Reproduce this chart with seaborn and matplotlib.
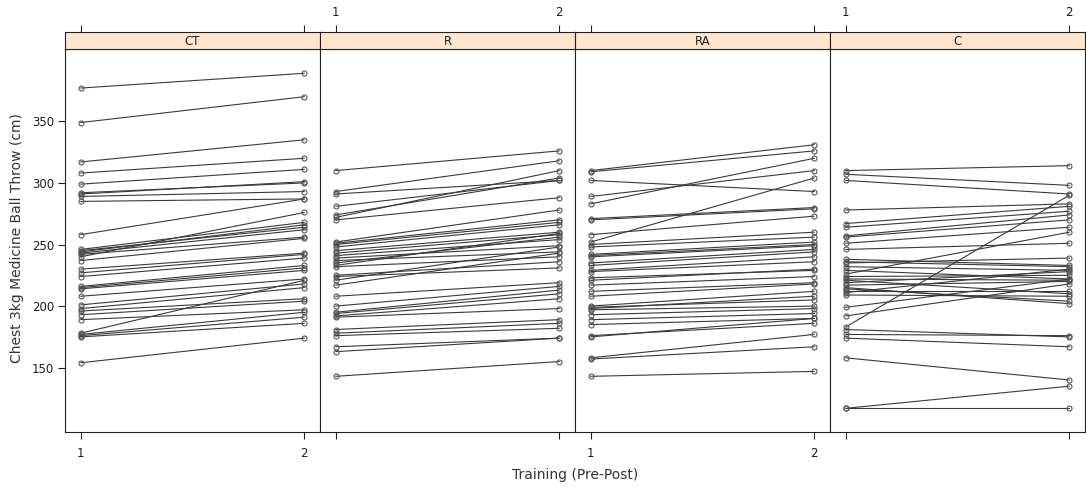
import numpy as np
import pandas as pd
import matplotlib
matplotlib.use("Agg")
import matplotlib.pyplot as plt
import seaborn as sns

groups = ["CT", "R", "RA", "C"]

ct_pre = [377, 349, 317, 308, 299, 292, 291, 289, 285, 258, 246, 245, 244, 243, 242, 240, 237, 230, 227, 224,
          216, 215, 214, 208, 201, 198, 196, 193, 189, 178, 177, 176, 175, 154]
ct_post = [389, 370, 335, 320, 311, 300, 301, 293, 287, 287, 268, 264, 266, 262, 256, 276, 255, 243, 242, 239,
           233, 231, 229, 222, 218, 215, 206, 204, 197, 221, 195, 191, 186, 174]

r_pre = [310, 293, 291, 281, 274, 272, 270, 252, 251, 250, 248, 245, 243, 241, 239, 237, 235, 233, 232, 225,
         224, 221, 217, 208, 200, 195, 194, 192, 191, 181, 178, 176, 167, 163, 143]
r_post = [326, 318, 302, 302, 304, 310, 288, 278, 270, 268, 266, 260, 258, 254, 249, 244, 256, 259, 240, 236,
          231, 248, 243, 219, 216, 213, 210, 206, 198, 189, 186, 182, 174, 174, 155]

ra_pre = [310, 309, 302, 289, 283, 271, 270, 258, 252, 250, 248, 242, 241, 240, 235, 233, 229, 228, 223, 221,
          217, 212, 208, 200, 199, 198, 197, 193, 189, 185, 176, 175, 158, 157, 143]
ra_post = [331, 326, 293, 310, 320, 280, 279, 273, 304, 260, 256, 252, 250, 249, 246, 244, 240, 236, 229, 230,
           224, 219, 218, 212, 205, 208, 200, 198, 194, 190, 186, 190, 177, 167, 147]

c_pre = [310, 307, 302, 278, 267, 264, 257, 256, 251, 246, 238, 236, 235, 232, 229, 226, 224, 222, 221, 219,
         217, 215, 214, 212, 211, 209, 199, 192, 183, 181, 177, 174, 158, 117, 117]
c_post = [314, 298, 291, 283, 281, 277, 274, 270, 264, 251, 233, 232, 239, 229, 222, 260, 225, 221, 210, 228,
          220, 202, 204, 212, 230, 208, 222, 218, 290, 175, 176, 167, 140, 135, 117]

times = [1, 2]
xticks = [1, 2]
yticks = [150, 200, 250, 300, 350]

data = {"CT": (ct_pre, ct_post), "R": (r_pre, r_post), "RA": (ra_pre, ra_post), "C": (c_pre, c_post)}
rows = []
for g in groups:
    pre, post = data[g]
    for i, (a, b) in enumerate(zip(pre, post)):
        rows.append(dict(group=g, id=f"{g}{i}", time=times[0], value=a))
        rows.append(dict(group=g, id=f"{g}{i}", time=times[1], value=b))
df = pd.DataFrame(rows)

sns.set_style("white")
plt.rcParams["font.family"] = ["DejaVu Sans"]

W, H = 1086, 488
fig = plt.figure(figsize=(W / 100, H / 100), dpi=100)
L, Rr = 65, 1085
pw = (Rr - L) / 4
ptop, pbot, stop = 49, 432, 32
tickcol = "#1a1a2e"

for i, g in enumerate(groups):
    x0 = L + i * pw
    ax = fig.add_axes([x0 / W, (H - pbot) / H, pw / W, (pbot - ptop) / H])
    sub = df[df.group == g]
    sns.lineplot(data=sub, x="time", y="value", units="id", estimator=None, color="#3a3a3a",
                 lw=0.8, marker="o", markersize=3.6, mfc="none", mec="#555555", mew=0.8,
                 ax=ax, legend=False)
    ax.set_xlim(0.93, 2.07)
    ax.set_ylim(97.8, 408.7)
    ax.set_xlabel("")
    ax.set_ylabel("")
    for s in ax.spines.values():
        s.set_color("#222222")
        s.set_linewidth(0.8)
    ax.set_xticks(xticks)
    ax.set_yticks(yticks)
    ax.tick_params(axis="both", direction="out", length=5, width=0.8, color="#222222",
                   labelcolor=tickcol, labelsize=8.5)
    ax.tick_params(axis="x", bottom=True, labelbottom=(i % 2 == 0), top=False, labeltop=False, pad=6)
    ax.tick_params(axis="y", left=(i == 0), labelleft=(i == 0), right=False, labelright=False, pad=3)

    sax = fig.add_axes([x0 / W, (H - ptop) / H, pw / W, (ptop - stop) / H])
    sax.set_facecolor("#ffe5cc")
    sax.set_xlim(0.93, 2.07)
    sax.set_ylim(0, 1)
    sax.set_yticks([])
    sax.set_xticks(xticks)
    sax.tick_params(axis="x", direction="out", length=5, width=0.8, color="#222222", labelcolor=tickcol,
                    labelsize=8.5, bottom=False, labelbottom=False, top=True, labeltop=(i % 2 == 1), pad=4)
    for s in sax.spines.values():
        s.set_color("#222222")
        s.set_linewidth(0.8)
    sax.text(0.5, 0.45, g, transform=sax.transAxes, ha="center", va="center", fontsize=8.5, color="#222222")

fig.text(17 / W, 1 - 238 / H, "Chest 3kg Medicine Ball Throw (cm)", rotation=90, ha="center", va="center",
         fontsize=10, color="#333333")
fig.text(575 / W, 1 - 475 / H, "Training (Pre-Post)", ha="center", va="center", fontsize=10, color="#333333")

fig.savefig("out.png", dpi=100, facecolor="white")
